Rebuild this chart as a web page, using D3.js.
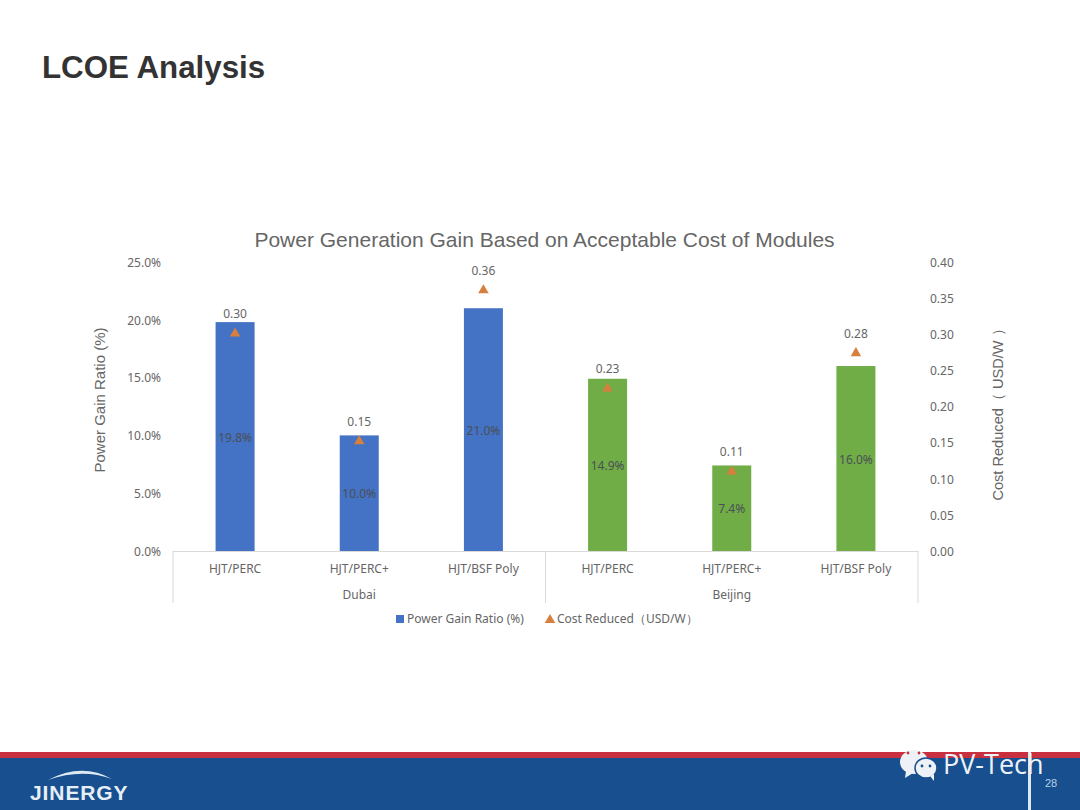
<!DOCTYPE html>
<html><head><meta charset="utf-8">
<script src="https://cdnjs.cloudflare.com/ajax/libs/d3/7.8.5/d3.min.js"></script>
<style>html,body{margin:0;padding:0;background:#fff}svg{display:block}
text{font-family:"Noto Sans",sans-serif}</style></head><body>
<svg id="c" width="1080" height="810"></svg>
<script>
const slideTitle = "LCOE Analysis";
const chartTitle = "Power Generation Gain Based on Acceptable Cost of Modules";
const categories = ["HJT/PERC","HJT/PERC+","HJT/BSF Poly","HJT/PERC ","HJT/PERC+ ","HJT/BSF Poly "];
const groups = [{name:"Dubai",first:0,last:2},{name:"Beijing",first:3,last:5}];
const gainValues = [19.8,10.0,21.0,14.9,7.4,16.0];
const costValues = [0.303,0.154,0.363,0.227,0.112,0.276];
const barColors = ["#4472c4","#4472c4","#4472c4","#70ad47","#70ad47","#70ad47"];
const leftTicks = [0,5,10,15,20,25];
const rightTicks = [0,0.05,0.10,0.15,0.20,0.25,0.30,0.35,0.40];

const svg = d3.select("#c");
const x0=173,x1=918,yB=551,yT=262;
const x=d3.scaleBand().domain(categories).range([x0,x1]);
const yL=d3.scaleLinear().domain([0,25]).range([yB,yT]);
const yR=d3.scaleLinear().domain([0,0.4]).range([yB,yT]);
const arial='"Liberation Sans",Arial,sans-serif';
const grey="#666666";
const triColor="#d77f3e";
const small=12;

svg.append("text").attr("x",42).attr("y",78).text(slideTitle)
  .style("font-family",arial).attr("font-weight",700).attr("font-size",31.3).attr("fill","#333333");
svg.append("text").attr("x",544.5).attr("y",247).attr("text-anchor","middle").text(chartTitle)
  .style("font-family",arial).attr("font-size",21).attr("fill",grey);

// axes
const axL=svg.append("g").attr("transform",`translate(${x0-12},0.5)`)
  .call(d3.axisLeft(yL).tickValues(leftTicks).tickSize(0).tickPadding(0).tickFormat(d=>d3.format(".1f")(d)+"%"));
const axR=svg.append("g").attr("transform",`translate(930,0.5)`)
  .call(d3.axisRight(yR).tickValues(rightTicks).tickSize(0).tickPadding(0).tickFormat(d3.format(".2f")));
[axL,axR].forEach(a=>{a.select(".domain").remove();
  a.selectAll("text").attr("font-size",small).attr("fill",grey).style("font-family",'"Noto Sans",sans-serif');});

svg.append("text").attr("transform","translate(105,400) rotate(-90)").attr("text-anchor","middle")
  .text("Power Gain Ratio (%)").style("font-family",arial).attr("font-size",15).attr("fill",grey);
svg.append("text").attr("transform","translate(1003,411) rotate(-90)").attr("text-anchor","middle")
  .text("Cost Reduced（ USD/W ）").style("font-family",arial).attr("font-size",14.6).attr("fill",grey);

// bars
const bw=39;
svg.selectAll("rect.bar").data(categories).join("rect").attr("class","bar")
  .attr("x",d=>x(d)+x.bandwidth()/2-bw/2).attr("width",bw)
  .attr("y",(d,i)=>yL(gainValues[i])).attr("height",(d,i)=>yB-yL(gainValues[i]))
  .attr("fill",(d,i)=>barColors[i]);

// category axis frame
const sep="#d9d9d9";
svg.append("line").attr("x1",x0).attr("x2",x1).attr("y1",yB+.5).attr("y2",yB+.5).attr("stroke",sep);
[x0,x(categories[3]),x1].forEach(v=>svg.append("line").attr("x1",v).attr("x2",v).attr("y1",yB).attr("y2",603).attr("stroke",sep));
svg.selectAll("text.cat").data(categories).join("text").attr("class","cat")
  .attr("x",d=>x(d)+x.bandwidth()/2).attr("y",573).attr("text-anchor","middle")
  .attr("font-size",small).attr("fill",grey).text(d=>d.trim());
svg.selectAll("text.grp").data(groups).join("text").attr("class","grp")
  .attr("x",g=>(x(categories[g.first])+x(categories[g.last])+x.bandwidth())/2).attr("y",599).attr("text-anchor","middle")
  .attr("font-size",small).attr("fill",grey).text(g=>g.name);

// bar labels
svg.selectAll("text.bl").data(categories).join("text").attr("class","bl")
  .attr("x",d=>x(d)+x.bandwidth()/2).attr("y",(d,i)=>(yL(gainValues[i])+yB)/2+5)
  .attr("text-anchor","middle").attr("font-size",small).attr("fill","#4a4f55")
  .text((d,i)=>d3.format(".1f")(gainValues[i])+"%");

// triangles
const tri=d3.symbol().type(d3.symbolTriangle).size(48);
svg.selectAll("path.tri").data(categories).join("path").attr("class","tri")
  .attr("transform",(d,i)=>`translate(${x(d)+x.bandwidth()/2},${yR(costValues[i])+1.5})`)
  .attr("d",tri).attr("fill",triColor);
svg.selectAll("text.tl").data(categories).join("text").attr("class","tl")
  .attr("x",d=>x(d)+x.bandwidth()/2).attr("y",(d,i)=>yR(costValues[i])-14)
  .attr("text-anchor","middle").attr("font-size",small).attr("fill",grey)
  .text((d,i)=>d3.format(".2f")(costValues[i]));

// legend
svg.append("rect").attr("x",396).attr("y",615).attr("width",8).attr("height",8).attr("fill","#4472c4");
svg.append("text").attr("x",407).attr("y",623).attr("font-size",small).attr("fill",grey).text("Power Gain Ratio (%)");
svg.append("path").attr("transform","translate(550,620)").attr("d",d3.symbol().type(d3.symbolTriangle).size(48)).attr("fill",triColor);
svg.append("text").attr("x",557).attr("y",623).attr("font-size",small).attr("fill",grey).text("Cost Reduced（USD/W）");

// footer
svg.append("rect").attr("x",0).attr("y",752).attr("width",1080).attr("height",6).attr("fill","#c8303f");
svg.append("rect").attr("x",0).attr("y",758).attr("width",1080).attr("height",52).attr("fill","#174f8f");
svg.append("path").attr("d","M48 780 Q82 762 112 779 Q82 768 48 780 Z").attr("fill","#dfe9f3");
svg.append("text").attr("x",30).attr("y",800).text("JINERGY").style("font-family",arial)
  .attr("font-weight",700).attr("font-size",21).attr("letter-spacing",.9).attr("fill","#e6eef6");
svg.append("rect").attr("x",1028).attr("y",752).attr("width",3).attr("height",58).attr("fill","#dfe8f2");
svg.append("text").attr("x",1045).attr("y",787).text("28").style("font-family",arial).attr("font-size",11).attr("fill","#b9d0e8");

// watermark
const wm=svg.append("g").attr("fill","#eef2f7");
wm.append("ellipse").attr("cx",914).attr("cy",762).attr("rx",14).attr("ry",12);
wm.append("path").attr("d","M906 771 L905 778 L913 773 Z");
wm.append("ellipse").attr("cx",926).attr("cy",768).attr("rx",11).attr("ry",10).attr("stroke","#174f8f").attr("stroke-width",1.5);
wm.append("path").attr("d","M930 776 L934 781 L934 774 Z");
const eyes=[[908,753,"#c8303f"],[919,753,"#c8303f"],[922,766,"#174f8f"],[930,766,"#174f8f"]];
wm.selectAll("circle").data(eyes).join("circle").attr("cx",d=>d[0]).attr("cy",d=>d[1]).attr("r",1.4).attr("fill",d=>d[2]);
svg.append("text").attr("x",943).attr("y",774).text("PV-Tech").style("font-family",'"Open Sans",sans-serif').attr("font-size",27).attr("fill","#eef2f7");
</script></body></html>
